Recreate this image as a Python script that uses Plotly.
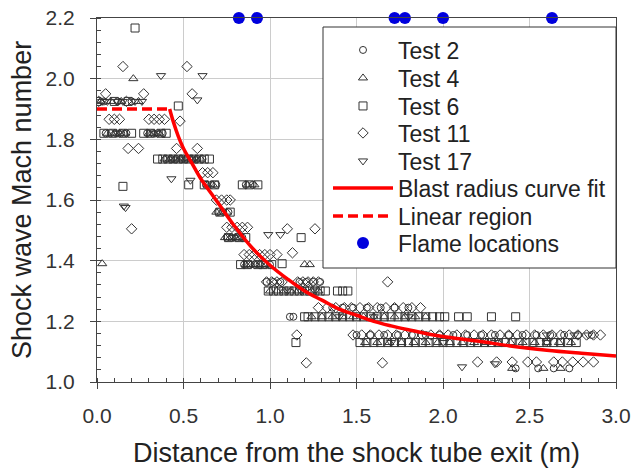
import plotly.graph_objects as go

# ---------------- data ----------------
t2_x = [0.04, 0.12, 0.20,
        0.05, 0.08, 0.11, 0.14, 0.17, 0.29, 0.32, 0.35, 0.38,
        0.40, 0.43, 0.46, 0.49, 0.52, 0.55, 0.58, 0.61,
        0.63, 0.66, 0.69, 0.86, 0.90,
        0.70, 0.73, 0.76,
        0.75, 0.78, 0.81, 0.84,
        0.85, 0.88, 0.91, 0.94, 0.97, 1.00,
        0.98, 1.02, 1.06, 1.17, 1.21, 1.25, 1.29,
        1.115, 1.135,
        1.36, 1.42, 1.48, 1.56, 1.64, 1.72, 1.80,
        1.50, 1.58, 1.66, 1.74, 1.82, 1.90, 1.98, 2.06, 2.14, 2.22, 2.30, 2.38, 2.46, 2.54, 2.62, 2.70, 2.78, 2.86,
        2.42, 2.55, 2.64, 2.73]
t2_y = [1.925, 1.925, 1.925,
        1.82, 1.82, 1.82, 1.82, 1.82, 1.82, 1.82, 1.82, 1.82,
        1.735, 1.735, 1.735, 1.735, 1.735, 1.735, 1.735, 1.735,
        1.65, 1.65, 1.65, 1.65, 1.65,
        1.56, 1.56, 1.56,
        1.476, 1.476, 1.476, 1.476,
        1.387, 1.387, 1.387, 1.387, 1.387, 1.387,
        1.33, 1.33, 1.33, 1.33, 1.33, 1.33, 1.33,
        1.215, 1.215,
        1.245, 1.245, 1.245, 1.245, 1.245, 1.245, 1.245,
        1.155, 1.155, 1.155, 1.155, 1.155, 1.155, 1.155, 1.155, 1.155, 1.155, 1.155, 1.155, 1.155, 1.155, 1.155, 1.155, 1.155, 1.155,
        1.045, 1.045, 1.045, 1.045]

t4_x = [0.03, 0.21,
        0.02, 0.08, 0.14, 0.24,
        0.06, 0.10, 0.13, 0.16, 0.30, 0.33, 0.36,
        0.39, 0.42, 0.45, 0.48, 0.51, 0.54, 0.57, 0.60,
        0.64, 0.67, 0.87, 0.91,
        0.69, 0.72, 0.75,
        0.74, 0.77, 0.80, 0.83,
        0.86, 0.89, 0.92, 0.95, 0.98, 1.20, 1.23,
        1.00, 1.04, 1.08, 1.12, 1.16, 1.20, 1.24, 1.28,
        1.24, 1.30, 1.36, 1.42, 1.48, 1.54, 1.60, 1.66, 1.72, 1.78, 1.84, 1.90,
        1.55, 1.62, 1.69, 1.76, 1.83, 1.90, 1.97, 2.04, 2.11, 2.18, 2.25, 2.32, 2.39, 2.46, 2.53, 2.60, 2.67, 2.74,
        2.40, 2.58, 2.68]
t4_y = [1.39, 2.00,
        1.925, 1.925, 1.925, 1.925,
        1.82, 1.82, 1.82, 1.82, 1.82, 1.82, 1.82,
        1.735, 1.735, 1.735, 1.735, 1.735, 1.735, 1.735, 1.735,
        1.65, 1.65, 1.65, 1.65,
        1.56, 1.56, 1.56,
        1.476, 1.476, 1.476, 1.476,
        1.387, 1.387, 1.387, 1.387, 1.387, 1.387, 1.387,
        1.30, 1.30, 1.30, 1.30, 1.30, 1.30, 1.30, 1.30,
        1.215, 1.215, 1.215, 1.215, 1.215, 1.215, 1.215, 1.215, 1.215, 1.215, 1.215, 1.215,
        1.13, 1.13, 1.13, 1.13, 1.13, 1.13, 1.13, 1.13, 1.13, 1.13, 1.13, 1.13, 1.13, 1.13, 1.13, 1.13, 1.13, 1.13,
        1.045, 1.045, 1.045]

t6_x = [0.22, 0.15, 0.47, 0.53, 1.18, 1.07, 1.15, 1.20,
        0.00, 0.10, 0.18,
        0.04, 0.09, 0.15, 0.20, 0.27, 0.31, 0.37, 0.40,
        0.35, 0.38, 0.41, 0.44, 0.47, 0.50, 0.53, 0.56, 0.59, 0.62, 0.65,
        0.62, 0.68, 0.84, 0.88, 0.93,
        0.71, 0.77,
        0.76, 0.82, 0.86,
        0.83, 0.87, 0.93, 0.96, 1.01,
        0.99, 1.02, 1.05, 1.08, 1.11, 1.14, 1.17, 1.20, 1.23, 1.26, 1.29, 1.32, 1.39, 1.42, 1.45,
        1.22, 1.26, 1.30, 1.34, 1.38, 1.42, 1.46, 1.50, 1.54, 1.58, 1.62, 1.66, 1.70, 1.74, 1.78, 1.82, 1.86, 1.90, 1.94, 1.98, 2.01, 2.09, 2.14, 2.28, 2.42,
        1.52, 1.56, 1.60, 1.64, 1.68, 1.72, 1.76, 1.80, 1.84, 1.88, 1.92, 1.96, 2.00, 2.04, 2.08, 2.12, 2.16, 2.20, 2.24, 2.28, 2.32, 2.36, 2.40, 2.44, 2.48, 2.52, 2.56, 2.60, 2.64, 2.68, 2.72, 2.77]
t6_y = [2.167, 1.645, 1.91, 1.65, 1.476, 1.39, 1.13, 1.215,
        1.925, 1.925, 1.925,
        1.82, 1.82, 1.82, 1.82, 1.82, 1.82, 1.82, 1.82,
        1.735, 1.735, 1.735, 1.735, 1.735, 1.735, 1.735, 1.735, 1.735, 1.735, 1.735,
        1.65, 1.65, 1.65, 1.65, 1.65,
        1.56, 1.56,
        1.476, 1.476, 1.476,
        1.387, 1.387, 1.387, 1.387, 1.387,
        1.30, 1.30, 1.30, 1.30, 1.30, 1.30, 1.30, 1.30, 1.30, 1.30, 1.30, 1.30, 1.30, 1.30, 1.30,
        1.215, 1.215, 1.215, 1.215, 1.215, 1.215, 1.215, 1.215, 1.215, 1.215, 1.215, 1.215, 1.215, 1.215, 1.215, 1.215, 1.215, 1.215, 1.215, 1.215, 1.215, 1.215, 1.215, 1.215, 1.215,
        1.13, 1.13, 1.13, 1.13, 1.13, 1.13, 1.13, 1.13, 1.13, 1.13, 1.13, 1.13, 1.13, 1.13, 1.13, 1.13, 1.13, 1.13, 1.13, 1.13, 1.13, 1.13, 1.13, 1.13, 1.13, 1.13, 1.13, 1.13, 1.13, 1.13, 1.13, 1.13]

t11_x = [0.05, 0.27, 0.15, 0.52, 0.55, 0.48, 0.18, 0.24, 0.46, 0.58, 0.20, 1.04, 1.13, 1.10, 1.26, 1.68, 1.155, 1.21, 1.65,
         0.01, 0.17,
         0.07, 0.10, 0.13, 0.30, 0.33, 0.36, 0.39,
         0.61, 0.64, 0.67,
         0.69, 0.72, 0.75, 0.77,
         0.75, 0.78, 0.81, 0.84, 0.87,
         0.85, 0.88, 0.91, 0.94, 0.97, 1.00,
         0.98, 1.01, 1.04, 1.07, 1.16, 1.19, 1.22, 1.25, 1.28,
         1.28, 1.33, 1.38, 1.43, 1.47, 1.52, 1.57, 1.62, 1.67, 1.72, 1.77, 1.82, 1.87,
         1.48, 1.53, 1.58, 1.63, 1.68, 1.73, 1.78, 1.83, 1.88, 1.93, 1.98, 2.03, 2.08, 2.13, 2.18, 2.23, 2.28, 2.33, 2.38, 2.43, 2.48, 2.53, 2.58, 2.63, 2.68, 2.73, 2.78, 2.83, 2.87, 2.91,
         2.20, 2.31, 2.40, 2.49, 2.54, 2.64, 2.69, 2.75, 2.81, 2.87]
t11_y = [1.95, 1.95, 2.04, 2.04, 1.95, 1.86, 1.77, 1.77, 1.77, 1.77, 1.505, 1.42, 1.426, 1.505, 1.505, 1.33, 1.155, 1.063, 1.063,
         1.925, 1.925,
         1.866, 1.866, 1.866, 1.866, 1.866, 1.866, 1.866,
         1.69, 1.69, 1.69,
         1.60, 1.60, 1.60, 1.60,
         1.51, 1.51, 1.51, 1.51, 1.51,
         1.42, 1.42, 1.42, 1.42, 1.42, 1.42,
         1.33, 1.33, 1.33, 1.33, 1.33, 1.33, 1.33, 1.33, 1.33,
         1.245, 1.245, 1.245, 1.245, 1.245, 1.245, 1.245, 1.245, 1.245, 1.245, 1.245, 1.245, 1.245,
         1.155, 1.155, 1.155, 1.155, 1.155, 1.155, 1.155, 1.155, 1.155, 1.155, 1.155, 1.155, 1.155, 1.155, 1.155, 1.155, 1.155, 1.155, 1.155, 1.155, 1.155, 1.155, 1.155, 1.155, 1.155, 1.155, 1.155, 1.155, 1.155, 1.155,
         1.066, 1.066, 1.066, 1.066, 1.066, 1.066, 1.066, 1.066, 1.066, 1.066]

t17_x = [0.37, 0.61, 0.58, 0.155, 0.165, 0.43, 0.54, 0.99, 1.06, 2.11, 2.30,
         0.03, 0.06, 0.12, 0.15, 0.22, 0.26,
         0.12, 0.34,
         0.44, 0.50, 0.56,
         0.79,
         1.10, 1.18, 1.26,
         1.40, 1.60, 1.80,
         2.60, 2.76, 2.84,
         1.70, 2.00, 2.30, 2.60]
t17_y = [2.01, 2.01, 1.93, 1.58, 1.575, 1.67, 1.665, 1.486, 1.486, 1.05, 1.06,
         1.925, 1.925, 1.925, 1.925, 1.925, 1.925,
         1.82, 1.82,
         1.735, 1.735, 1.735,
         1.476,
         1.30, 1.30, 1.30,
         1.215, 1.215, 1.215,
         1.155, 1.155, 1.155,
         1.13, 1.13, 1.13, 1.13]

fit_x = [0.42, 0.44, 0.47, 0.50, 0.55, 0.60, 0.65, 0.70, 0.80, 0.90, 1.00, 1.10, 1.20, 1.30, 1.40,
         1.50, 1.60, 1.70, 1.80, 1.90, 2.00, 2.20, 2.40, 2.60, 2.80, 3.00]
fit_y = [1.90, 1.86, 1.81, 1.77, 1.72, 1.67, 1.63, 1.59, 1.51, 1.44, 1.385, 1.34, 1.30, 1.27, 1.24,
         1.22, 1.20, 1.185, 1.172, 1.16, 1.15, 1.135, 1.118, 1.105, 1.095, 1.086]

lin_x = [0.0, 0.42]
lin_y = [1.90, 1.90]

flame_x = [0.82, 0.925, 1.72, 1.78, 2.00, 2.63]
flame_y = [2.2, 2.2, 2.2, 2.2, 2.2, 2.2]

legend_names = ["Test 2", "Test 4", "Test 6", "Test 11", "Test 17",
                "Blast radius curve fit", "Linear region", "Flame locations"]
x_title = "Distance from the shock tube exit (m)"
y_title = "Shock wave Mach number"

# ---------------- figure ----------------
FONT = "Liberation Sans, Arial, sans-serif"
W, H = 634, 472
PL, PR, PT, PB = 97, 616, 18, 382   # target plot-area edges in pixels
ML, MR, MT, MB = PL, W - PR, PT, H - PB
PW, PH = PR - PL, PB - PT

def px_to_paper_x(px):
    return (px - PL) / PW

def px_to_paper_y(py):
    return (PB - py) / PH

mk_line = dict(color="#333333", width=1)
legend_keys = ["legend", "legend2", "legend3", "legend4", "legend5", "legend6", "legend7", "legend8"]
row_centers = [50, 78, 106, 133, 161, 188, 216, 243]

fig = go.Figure()
tests = [
    (t2_x, t2_y, "circle-open", 7),
    (t4_x, t4_y, "triangle-up-open", 8),
    (t6_x, t6_y, "square-open", 8),
    (t11_x, t11_y, "diamond-open", 8),
    (t17_x, t17_y, "triangle-down-open", 8),
]
for i, (xs, ys, sym, sz) in enumerate(tests):
    fig.add_trace(go.Scatter(
        x=xs, y=ys, mode="markers", name=legend_names[i], legend=legend_keys[i],
        marker=dict(symbol=sym, size=sz, color="#333333", line=mk_line),
    ))

fig.add_trace(go.Scatter(x=fit_x, y=fit_y, mode="lines", name=legend_names[5], legend=legend_keys[5],
                         line=dict(color="#ff0000", width=3.5, shape="spline")))
fig.add_trace(go.Scatter(x=lin_x, y=lin_y, mode="lines", name=legend_names[6], legend=legend_keys[6],
                         line=dict(color="#ff0000", width=3.5, dash="10px,5px")))
fig.add_trace(go.Scatter(x=flame_x, y=flame_y, mode="markers", name=legend_names[7], legend=legend_keys[7],
                         cliponaxis=False,
                         marker=dict(symbol="circle", size=12, color="#0000dd")))

axis_common = dict(
    showline=True, linecolor="#444444", linewidth=1, mirror=True,
    showgrid=True, gridcolor="#cccccc", gridwidth=1,
    ticks="outside", ticklen=6, tickcolor="#444444",
    tickfont=dict(family=FONT, size=21, color="#333333"),
    zeroline=False, automargin=False, ticklabeloverflow="allow",
)

fig.update_xaxes(
    range=[0, 3.0], dtick=0.5, tick0=0, tickformat=".1f",
    minor=dict(ticks="inside", ticklen=4, dtick=0.1, tickcolor="#444444", showgrid=False),
    title=dict(text=x_title,
               font=dict(family=FONT, size=27, color="#222222"), standoff=16),
    ticklabelstandoff=9,
    **axis_common,
)
fig.update_yaxes(
    range=[1.0, 2.2], dtick=0.2, tick0=1.0, tickformat=".1f",
    minor=dict(ticks="inside", ticklen=4, dtick=0.04, tickcolor="#444444", showgrid=False),
    ticklabelstandoff=11,
    **axis_common,
)

# y-axis title placed precisely as a rotated annotation
fig.add_annotation(text=y_title, xref="paper", yref="paper",
                   x=px_to_paper_x(22), y=0.5, xanchor="center", yanchor="middle",
                   textangle=-90, showarrow=False,
                   font=dict(family=FONT, size=27, color="#222222"))

# legend frame (white box with border) drawn as a paper-space rectangle
fig.add_shape(type="rect", xref="paper", yref="paper", layer="above",
              x0=px_to_paper_x(323), x1=1.0, y0=px_to_paper_y(268), y1=px_to_paper_y(27),
              fillcolor="white", line=dict(color="#333333", width=1))

layout_legends = {}
for key, cy in zip(legend_keys, row_centers):
    layout_legends[key] = dict(
        x=px_to_paper_x(328), y=px_to_paper_y(cy), xanchor="left", yanchor="middle",
        bgcolor="rgba(0,0,0,0)", borderwidth=0,
        font=dict(family=FONT, size=23, color="#222222"),
        itemwidth=60,
    )

fig.update_layout(
    width=W, height=H,
    margin=dict(l=ML, r=MR, t=MT, b=MB),
    plot_bgcolor="white", paper_bgcolor="white",
    font=dict(family=FONT, color="#222222"),
    showlegend=True,
    **layout_legends,
)

fig.write_html("out.html", config={"displayModeBar": False},
               post_script="document.body.style.margin='0px';")
